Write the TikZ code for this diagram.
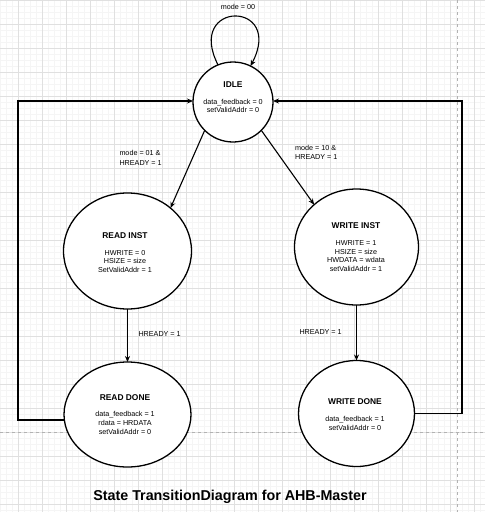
\documentclass[tikz,border=0pt]{standalone}
\usepackage{fontspec}
\setmainfont{Liberation Sans}
\usetikzlibrary{shapes.geometric,arrows.meta}
\begin{document}
\begin{tikzpicture}[x=1pt,y=-1pt,
  state/.style={ellipse,draw,line width=1.3pt,fill=white,inner sep=0pt,outer sep=0pt},
  ttl/.style={font=\fontsize{8.4}{10}\selectfont\bfseries,inner sep=0pt},
  txt/.style={font=\fontsize{7.2}{8.6}\selectfont,align=center,inner sep=0pt},
  lbl/.style={font=\fontsize{7.2}{9.8}\selectfont,align=left,inner sep=0pt,anchor=west},
  arr/.style={line width=1.1pt,-{Stealth[length=6pt,width=5pt]}},
  minorgrid/.style={line width=0.5pt,color=black!4},
  majorgrid/.style={line width=0.6pt,color=black!12},
  pagebreak/.style={line width=0.6pt,color=black!30,dash pattern=on 3pt off 3pt},
]
\useasboundingbox (0,0) rectangle (485,512);
\fill[white] (0,0) rectangle (485,512);
% grid
\foreach \i in {0,...,80} { \draw[minorgrid] ({0.3+6*\i},0) -- ({0.3+6*\i},512); }
\foreach \i in {0,...,85} { \draw[minorgrid] (0,{0.5+6*\i}) -- (485,{0.5+6*\i}); }
\foreach \i in {0,...,19} { \draw[majorgrid] ({18.3+24*\i},0) -- ({18.3+24*\i},512); }
\foreach \i in {0,...,21} { \draw[majorgrid] (0,{0.5+24*\i}) -- (485,{0.5+24*\i}); }
\draw[pagebreak] (457.3,0) -- (457.3,512);
\draw[pagebreak] (0,432.3) -- (485,432.3);

% states
\node[state,minimum width=80pt,minimum height=80pt] (idle) at (233,102) {};
\node[state,minimum width=128pt,minimum height=116pt] (readinst) at (127.5,251) {};
\node[state,minimum width=124pt,minimum height=116pt] (writeinst) at (356.5,247) {};
\node[state,minimum width=127pt,minimum height=105pt] (readdone) at (127.5,414.5) {};
\node[state,minimum width=116pt,minimum height=106pt] (writedone) at (356.5,413.5) {};

% state texts
\node[ttl] (idlet) at (233,85) {IDLE};
\node[txt] (idlex) at (233,106) {data\_feedback = 0\\setValidAddr = 0};
\node[ttl] (readinstt) at (125,235.7) {READ INST};
\node[txt] (readinstx) at (125,261.5) {HWRITE = 0\\HSIZE = size\\SetValidAddr = 1};
\node[ttl] (writeinstt) at (356,225.7) {WRITE INST};
\node[txt] (writeinstx) at (356,256.2) {HWRITE = 1\\HSIZE = size\\HWDATA = wdata\\setValidAddr = 1};
\node[ttl] (readdonet) at (125,397.3) {READ DONE};
\node[txt] (readdonex) at (125,423) {data\_feedback = 1\\rdata = HRDATA\\setValidAddr = 0};
\node[ttl] (writedonet) at (355,401.7) {WRITE DONE};
\node[txt] (writedonex) at (355,423.5) {data\_feedback = 1\\setValidAddr = 0};

% transitions
\draw[arr] (idle.112) .. controls (185,0) and (285,0) .. (idle.64);
\node[txt] (l00) at (238,7) {mode = 00};
\draw[arr] (idle.225) -- (readinst.45);
\node[lbl] (l01) at (119.3,158) {mode = 01 \&\\HREADY = 1};
\draw[arr] (idle.-45) -- (writeinst.135);
\node[lbl] (l10) at (295,152.3) {mode = 10 \&\\HREADY = 1};
\draw[arr] (readinst.south) -- (readdone.north);
\node[lbl] (lr) at (138.3,334.3) {HREADY = 1};
\draw[arr] (writeinst.south) -- (writedone.north);
\node[lbl] (lw) at (299.3,331.7) {HREADY = 1};
\coordinate (lc) at (18,101);
\coordinate (rc) at (462,101);
\draw[arr] (readdone.185) -| (lc) -- (idle.west |- lc);
\draw[arr] (writedone.east) -| (rc) -- (idle.east |- rc);

% title
\node[font=\fontsize{14.3}{16}\selectfont\bfseries,inner sep=0pt] (title) at (230,497) {State TransitionDiagram for AHB-Master};
\end{tikzpicture}
\end{document}
